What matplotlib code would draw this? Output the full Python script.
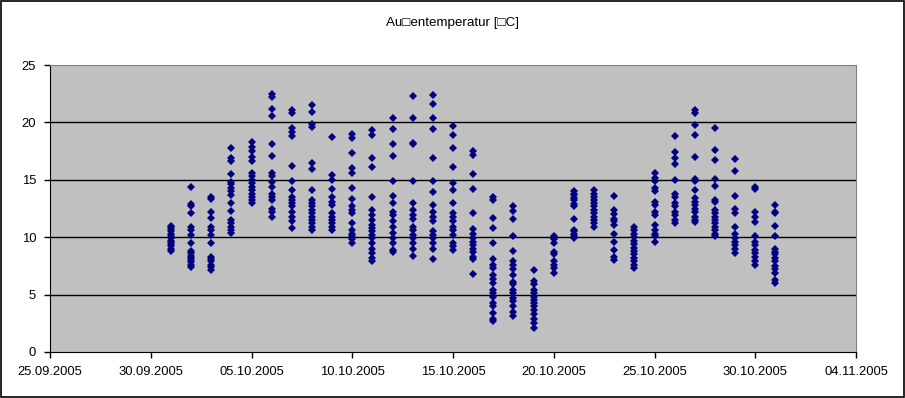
import datetime as dt
import matplotlib
matplotlib.use("Agg")
import matplotlib.pyplot as plt
import matplotlib.dates as mdates

plt.rcParams['font.family'] = ['Liberation Sans', 'DejaVu Sans']

title = 'Au\u25a1entemperatur [\u25a1C]'

# readings per day of October 2005 (°C)
t01 = [8.8, 9.0, 9.2, 9.4, 9.6, 9.7, 9.9, 10.1, 10.3, 10.5, 10.7, 10.9, 11.0]
t02 = [14.4, 12.9, 12.7, 12.1, 10.9, 10.6, 10.2, 9.5, 8.8, 8.6, 8.4, 8.2, 8.0, 7.8, 7.6, 7.4]
t03 = [13.5, 13.3, 12.2, 11.7, 10.9, 10.6, 10.2, 9.5, 8.3, 8.1, 7.9, 7.6, 7.4, 7.1]
t04 = [17.8, 16.9, 16.6, 15.5, 14.8, 14.6, 14.3, 14.0, 13.7, 13.0, 12.3, 11.5, 11.2, 10.9, 10.6, 10.4]
t05 = [18.3, 17.9, 17.5, 17.0, 16.6, 15.6, 15.3, 15.0, 14.7, 14.4, 14.1, 13.8, 13.5, 13.2, 13.0]
t06 = [22.5, 22.2, 21.2, 20.6, 18.1, 17.1, 15.6, 15.3, 14.8, 14.4, 13.8, 13.5, 13.2, 12.5, 12.2, 11.8]
t07 = [21.1, 20.8, 19.5, 19.2, 18.8, 16.2, 14.9, 14.1, 13.5, 13.2, 13.0, 12.7, 12.2, 11.8, 11.4, 10.8]
t08 = [21.5, 20.9, 19.9, 19.6, 16.5, 15.9, 14.1, 13.2, 13.0, 12.7, 12.4, 12.1, 11.8, 11.5, 11.2, 10.9, 10.6]
t09 = [18.7, 15.4, 15.0, 14.2, 13.5, 13.1, 12.8, 12.1, 11.8, 11.5, 11.2, 10.9, 10.6]
t10 = [19.0, 18.6, 17.3, 16.0, 15.6, 14.3, 13.3, 12.7, 12.4, 12.1, 11.2, 10.6, 10.3, 10.1, 9.8, 9.5]
t11 = [19.3, 18.9, 16.9, 16.1, 13.5, 12.4, 11.9, 11.5, 11.1, 10.8, 10.5, 10.2, 9.9, 9.5, 9.0, 8.6, 8.2, 7.9]
t12 = [20.4, 19.4, 18.1, 17.1, 14.9, 13.6, 13.0, 12.2, 11.9, 11.4, 10.9, 10.4, 9.9, 9.5, 8.9, 8.7]
t13 = [22.3, 20.4, 18.2, 18.1, 14.9, 13.0, 12.4, 11.9, 11.6, 10.9, 10.6, 10.2, 9.9, 9.5, 9.0, 8.4]
t14 = [22.4, 21.6, 20.4, 19.4, 16.9, 14.9, 13.9, 12.8, 12.2, 11.8, 11.4, 10.5, 10.2, 9.9, 9.5, 9.0, 8.1]
t15 = [19.7, 18.9, 17.8, 16.1, 14.7, 14.1, 13.0, 12.1, 11.8, 11.4, 10.9, 10.6, 10.2, 9.5, 9.2, 8.9]
t16 = [17.5, 17.2, 15.5, 14.2, 12.1, 10.7, 10.3, 9.9, 9.6, 9.3, 9.0, 8.7, 8.3, 8.1, 6.8]
t17 = [13.5, 13.2, 11.7, 10.8, 9.5, 8.1, 7.6, 7.3, 6.7, 6.4, 6.0, 5.4, 5.1, 4.8, 4.3, 4.0, 3.4, 2.9, 2.7]
t18 = [12.7, 12.3, 11.6, 10.1, 8.8, 7.9, 7.6, 7.2, 6.7, 6.1, 5.9, 5.4, 5.1, 4.7, 4.4, 4.0, 3.5, 3.1]
t19 = [7.1, 6.2, 5.9, 5.4, 5.1, 4.8, 4.5, 4.3, 4.0, 3.7, 3.3, 2.9, 2.5, 2.1]
t20 = [10.1, 9.9, 9.8, 9.5, 8.7, 8.5, 7.9, 7.6, 7.3, 6.9]
t21 = [14.0, 13.8, 13.7, 13.4, 13.2, 12.9, 12.7, 11.6, 10.6, 10.5, 10.3, 10.1, 9.9]
t22 = [14.1, 13.8, 13.5, 13.2, 13.0, 12.7, 12.4, 12.1, 11.8, 11.5, 11.2, 10.9]
t23 = [13.6, 12.4, 12.0, 11.6, 11.4, 11.1, 10.3, 9.6, 8.9, 8.3, 8.0]
t24 = [10.9, 10.6, 10.3, 10.0, 9.7, 9.4, 9.1, 8.8, 8.5, 8.2, 7.9, 7.6, 7.3]
t25 = [15.6, 15.2, 14.9, 14.3, 14.0, 13.1, 12.8, 12.2, 11.9, 11.1, 10.6, 10.3, 10.1, 9.6]
t26 = [18.8, 17.4, 16.9, 16.4, 15.0, 13.8, 13.5, 13.0, 12.7, 12.2, 11.9, 11.5, 11.2]
t27 = [21.1, 20.8, 19.8, 18.9, 17.0, 15.1, 14.9, 14.1, 13.4, 13.1, 12.8, 12.5, 12.2, 11.8, 11.5, 11.3]
t28 = [19.5, 17.6, 16.7, 15.1, 14.5, 13.2, 13.1, 12.4, 12.1, 11.8, 11.5, 11.2, 10.9, 10.6, 10.3, 10.1]
t29 = [16.8, 15.8, 13.6, 12.5, 12.1, 10.9, 10.3, 9.9, 9.6, 9.3, 9.0, 8.6]
t30 = [14.4, 14.2, 12.2, 11.8, 11.3, 10.1, 9.6, 9.3, 8.9, 8.6, 8.3, 7.9, 7.6]
t31 = [12.8, 12.2, 12.1, 11.0, 10.1, 9.0, 8.7, 8.5, 8.2, 7.9, 7.5, 7.2, 6.9, 6.3, 6.0]

readings = [t01, t02, t03, t04, t05, t06, t07, t08, t09, t10, t11, t12, t13, t14, t15, t16,
            t17, t18, t19, t20, t21, t22, t23, t24, t25, t26, t27, t28, t29, t30, t31]
days = [dt.datetime(2005, 10, d) for d in range(1, 32)]

xs, ys = [], []
for day, vals in zip(days, readings):
    xs += [day] * len(vals)
    ys += vals

fig = plt.figure(figsize=(9.05, 3.98), dpi=100)
ax = fig.add_axes([50 / 905, 46 / 398, 806 / 905, 287 / 398])
ax.set_facecolor('#c0c0c0')

ax.plot(xs, ys, linestyle='none', marker='D', markersize=4.0,
        color='#000080', markeredgewidth=0, zorder=3)

for v in [5, 10, 15, 20]:
    ax.axhline(v, color='black', linewidth=1, zorder=1)

ax.set_ylim(0, 25)
ax.set_yticks([0, 5, 10, 15, 20, 25])
x0 = dt.datetime(2005, 9, 25)
x1 = dt.datetime(2005, 11, 4)
ax.set_xlim(x0, x1)
ax.set_xticks([x0 + dt.timedelta(days=5 * i) for i in range(9)])
ax.xaxis.set_major_formatter(mdates.DateFormatter('%d.%m.%Y'))

ax.tick_params(direction='out', length=4, width=1, labelsize=9.4, pad=6, color='black')
ax.spines['left'].set_color('black')
ax.spines['bottom'].set_color('black')
ax.spines['top'].set_color('#808080')
ax.spines['right'].set_color('#808080')

fig.text(0.5, 1 - 23 / 398, title, ha='center', va='center', fontsize=9.6)

# outer chart border
fig.patches.append(plt.Rectangle((0.0007, 0.0015), 0.9983, 0.996, transform=fig.transFigure,
                                 fill=False, edgecolor='black', linewidth=1.2))

fig.savefig('out.png', dpi=100)
